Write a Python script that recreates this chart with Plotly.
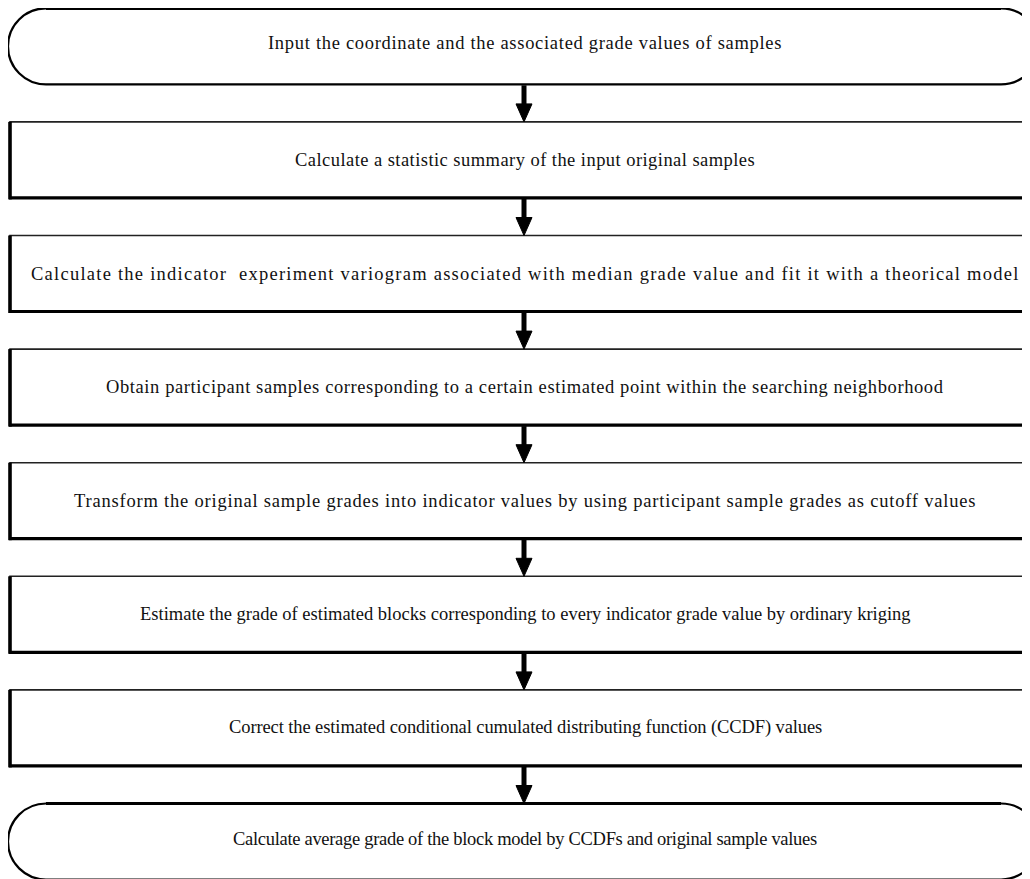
import plotly.graph_objects as go

# ---- data ----
steps = [
    "Input the coordinate and the associated grade values of samples",
    "Calculate a statistic summary of the input original samples",
    "Calculate the indicator  experiment variogram associated with median grade value and fit it with a theorical model",
    "Obtain participant samples corresponding to a certain estimated point within the searching neighborhood",
    "Transform the original sample grades into indicator values by using participant sample grades as cutoff values",
    "Estimate the grade of estimated blocks corresponding to every indicator grade value by ordinary kriging",
    "Correct the estimated conditional cumulated distributing function (CCDF) values",
    "Calculate average grade of the block model by CCDFs and original sample values",
]
kinds = ["terminal"] + ["process"] * 6 + ["terminal"]

# ---- style (per-line letter spacing, px) ----
letter_spacing = [0.7, 0.45, 1.25, 0.6, 0.8, 0.0, -0.1, -0.3]

# ---- layout geometry (screen pixels; page body has an 8px margin) ----
W, H = 1030, 879
OFF = 8
TOP0 = 8.3
PERIOD = 113.6
BOX_H = 76
X_LEFT = 9
X_RIGHT = 1060
ARROW_X = 524
TEXT_X = 525

fig = go.Figure()
shapes = []
annotations = []

def stadium(x0, y0, x1, y1):
    r = (y1 - y0) / 2
    k = 0.5523 * r
    ym = (y0 + y1) / 2
    return (f"M {x0+r},{y0} L {x1-r},{y0} "
            f"C {x1-r+k},{y0} {x1},{ym-k} {x1},{ym} "
            f"C {x1},{ym+k} {x1-r+k},{y1} {x1-r},{y1} "
            f"L {x0+r},{y1} "
            f"C {x0+r-k},{y1} {x0},{ym+k} {x0},{ym} "
            f"C {x0},{ym-k} {x0+r-k},{y0} {x0+r},{y0} Z")

n = len(steps)
tops = [TOP0 + i * PERIOD for i in range(n)]
for i, (txt, kind) in enumerate(zip(steps, kinds)):
    y0 = tops[i]
    y1 = y0 + BOX_H
    if kind == "terminal":
        r = BOX_H / 2
        xl, xr = 8, 1039
        shapes.append(dict(type="path", path=stadium(xl, y0, xr, y1),
                           line=dict(color="black", width=2.2), fillcolor="white",
                           xref="x", yref="y", layer="below"))
        shapes.append(dict(type="line", x0=xl + r, x1=xr - r, y0=y0, y1=y0,
                           line=dict(color="black", width=3.2), xref="x", yref="y"))
        ty = (y0 + y1) / 2 - 3
    else:
        shapes.append(dict(type="rect", x0=X_LEFT + 1, x1=X_RIGHT, y0=y0, y1=y1,
                           line=dict(color="#222", width=1.6), fillcolor="white",
                           xref="x", yref="y", layer="below"))
        shapes.append(dict(type="line", x0=X_LEFT + 1, x1=X_LEFT + 1, y0=y0, y1=y1 + 1.5,
                           line=dict(color="black", width=3.6), xref="x", yref="y"))
        shapes.append(dict(type="line", x0=X_LEFT, x1=X_RIGHT, y0=y1, y1=y1,
                           line=dict(color="black", width=3.2), xref="x", yref="y"))
        ty = (y0 + y1) / 2
    ls = letter_spacing[i]
    annotations.append(dict(x=TEXT_X, y=ty,
                            text=f'<span style="letter-spacing:{ls}px">{txt}</span>',
                            showarrow=False, xref="x", yref="y",
                            xanchor="center", yanchor="middle",
                            font=dict(family="Liberation Serif", size=18.5, color="#111")))
    if i < n - 1:
        a0 = y1 + 1
        a1 = tops[i + 1]
        head = 18
        shapes.append(dict(type="line", x0=ARROW_X, x1=ARROW_X, y0=a0, y1=a1 - head + 2,
                           line=dict(color="black", width=5), xref="x", yref="y"))
        shapes.append(dict(type="path",
                           path=f"M {ARROW_X-8},{a1-head} L {ARROW_X+8},{a1-head} L {ARROW_X},{a1} Z",
                           fillcolor="black", line=dict(color="black", width=1),
                           xref="x", yref="y"))

fig.update_layout(
    width=W, height=H,
    margin=dict(l=0, r=0, t=0, b=0),
    paper_bgcolor="white", plot_bgcolor="white",
    xaxis=dict(range=[OFF, OFF + W], visible=False, fixedrange=True),
    yaxis=dict(range=[OFF + H, OFF], visible=False, fixedrange=True),
    shapes=shapes, annotations=annotations, showlegend=False,
)
fig.write_html("out.html")
